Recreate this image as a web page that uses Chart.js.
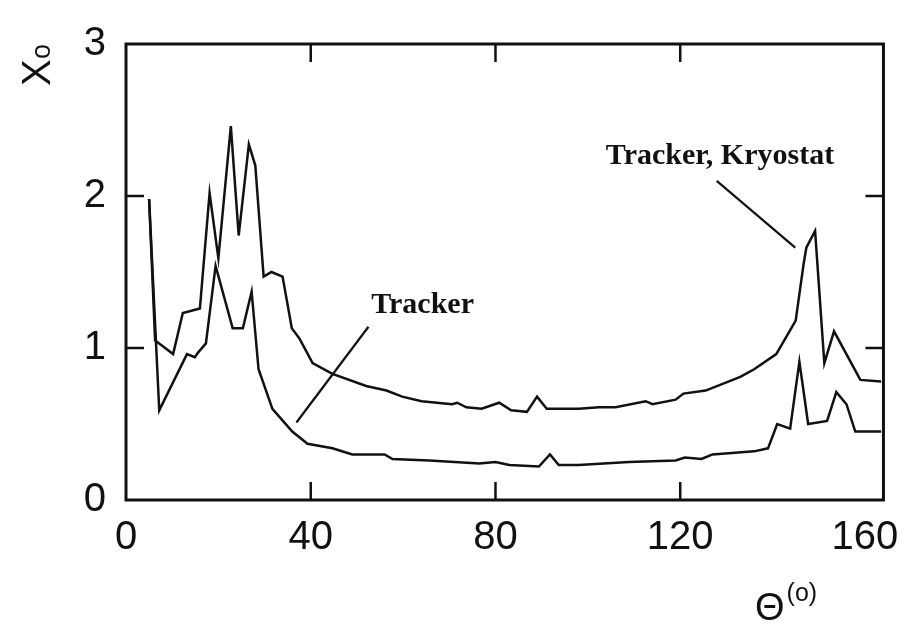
<!DOCTYPE html>
<html>
<head>
<meta charset="utf-8">
<script src="https://cdn.jsdelivr.net/npm/chart.js@4.4.0/dist/chart.umd.min.js"></script>
<style>
  html, body { margin: 0; padding: 0; background: #fff; }
</style>
</head>
<body>
<canvas id="chart" width="913" height="624"></canvas>
<script>
// angle in degrees, radiation length X0
const upperTheta = [5, 6.3, 10.2, 12.3, 16, 18.1, 20, 22.7, 24.4, 26.6, 28, 29.8, 31.5, 33.9, 35.9, 37.6, 40.4, 44.7, 52, 56.4, 59.8, 64, 70.6, 71.7, 73.7, 77, 80.8, 83.4, 86.8, 89, 91.1, 98, 102.4, 106, 112.5, 114, 119, 120.7, 125.5, 133, 136, 140.8, 145, 146.7, 147.3, 149.2, 151.2, 153.3, 159, 163.5];
const upperX0 = [1.98, 1.05, 0.96, 1.23, 1.26, 2.02, 1.59, 2.46, 1.74, 2.34, 2.2, 1.47, 1.5, 1.47, 1.13, 1.06, 0.9, 0.83, 0.75, 0.72, 0.68, 0.65, 0.63, 0.64, 0.61, 0.6, 0.64, 0.59, 0.58, 0.68, 0.6, 0.6, 0.61, 0.61, 0.65, 0.63, 0.66, 0.7, 0.72, 0.81, 0.86, 0.96, 1.18, 1.55, 1.66, 1.77, 0.9, 1.11, 0.79, 0.78];

const lowerTheta = [5, 7.2, 13.2, 14.9, 15.6, 17.3, 19.4, 23.1, 25.3, 27.2, 28.7, 31.7, 36, 39.3, 44.7, 49, 56, 57.7, 65.7, 76.5, 80, 83, 89.4, 91.8, 93.7, 98, 108.9, 119, 121, 124.6, 127, 136, 139, 141, 143.8, 145.8, 147.7, 151.8, 153.8, 156, 157.9, 163.5];
const lowerX0 = [1.98, 0.59, 0.96, 0.94, 0.97, 1.03, 1.54, 1.13, 1.13, 1.37, 0.86, 0.6, 0.45, 0.37, 0.34, 0.3, 0.3, 0.27, 0.26, 0.24, 0.25, 0.23, 0.22, 0.3, 0.23, 0.23, 0.25, 0.26, 0.28, 0.27, 0.3, 0.32, 0.34, 0.5, 0.47, 0.91, 0.5, 0.52, 0.71, 0.63, 0.45, 0.45];

const xTicks = [0, 40, 80, 120, 160];
const yTicks = [0, 1, 2, 3];

// labels with leader lines, in data units
const notes = [
  { text: 'Tracker', at: [53.1, 1.23], from: [52.5, 1.14], to: [36.9, 0.51] },
  { text: 'Tracker, Kryostat', at: [103.9, 2.21], from: [127.9, 2.1], to: [144.9, 1.66] }
];

const ink = '#111';

function toPoints(xs, ys) {
  return xs.map((v, i) => ({ x: v, y: ys[i] }));
}

const framePlugin = {
  id: 'frame',
  afterDraw(chart) {
    const { ctx, chartArea: a, scales: { x, y } } = chart;
    ctx.save();
    ctx.strokeStyle = ink;
    ctx.lineWidth = 3;
    ctx.strokeRect(a.left, a.top, a.right - a.left, a.bottom - a.top);

    // inward ticks on all four sides
    ctx.lineWidth = 2.5;
    ctx.beginPath();
    xTicks.slice(1, -1).forEach(v => {
      const px = x.getPixelForValue(v);
      ctx.moveTo(px, a.bottom); ctx.lineTo(px, a.bottom - 18);
      ctx.moveTo(px, a.top); ctx.lineTo(px, a.top + 18);
    });
    yTicks.slice(1, -1).forEach(v => {
      const py = y.getPixelForValue(v);
      ctx.moveTo(a.left, py); ctx.lineTo(a.left + 18, py);
      ctx.moveTo(a.right, py); ctx.lineTo(a.right - 18, py);
    });
    ctx.stroke();

    // annotations
    ctx.font = 'bold 30px "Liberation Serif", "Times New Roman", serif';
    ctx.fillStyle = ink;
    ctx.textBaseline = 'alphabetic';
    ctx.lineWidth = 2.2;
    notes.forEach(n => {
      ctx.fillText(n.text, x.getPixelForValue(n.at[0]), y.getPixelForValue(n.at[1]));
      ctx.beginPath();
      ctx.moveTo(x.getPixelForValue(n.from[0]), y.getPixelForValue(n.from[1]));
      ctx.lineTo(x.getPixelForValue(n.to[0]), y.getPixelForValue(n.to[1]));
      ctx.stroke();
    });

    // y title, rotated: X with small o
    ctx.save();
    ctx.translate(50, 86);
    ctx.rotate(-Math.PI / 2);
    ctx.font = '40px "Liberation Sans", Arial, sans-serif';
    ctx.fillText('X', 0, 0);
    ctx.font = '27px "Liberation Sans", Arial, sans-serif';
    ctx.fillText('o', 27, 0);
    ctx.restore();

    // x title: theta with (o) superscript
    ctx.font = '38px "Liberation Sans Narrow", "Liberation Sans", Arial, sans-serif';
    ctx.fillText('Θ', 755, 620);
    const w = ctx.measureText('Θ').width;
    ctx.font = '25px "Liberation Sans", Arial, sans-serif';
    ctx.fillText('(o)', 755 + w + 2, 601);
    ctx.restore();
  }
};

const lineStyle = {
  borderColor: ink,
  borderWidth: 2.5,
  pointRadius: 0,
  fill: false,
  tension: 0
};

new Chart(document.getElementById('chart').getContext('2d'), {
  type: 'line',
  data: {
    datasets: [
      Object.assign({ label: 'Tracker, Kryostat', data: toPoints(upperTheta, upperX0) }, lineStyle),
      Object.assign({ label: 'Tracker', data: toPoints(lowerTheta, lowerX0) }, lineStyle)
    ]
  },
  options: {
    responsive: false,
    animation: false,
    layout: { padding: { top: 34, right: 27, left: 0, bottom: 0 } },
    plugins: {
      legend: { display: false },
      tooltip: { enabled: false }
    },
    scales: {
      x: {
        type: 'linear',
        min: 0,
        max: 164,
        afterBuildTicks: s => { s.ticks = xTicks.map(v => ({ value: v })); },
        afterFit: s => { s.height = 124; },
        grid: { display: false, drawTicks: false },
        border: { display: false },
        ticks: {
          color: ink,
          padding: 14,
          maxRotation: 0,
          autoSkip: false,
          font: { family: '"Liberation Sans", Arial, sans-serif', size: 40 }
        }
      },
      y: {
        type: 'linear',
        min: 0,
        max: 3,
        afterBuildTicks: s => { s.ticks = yTicks.map(v => ({ value: v })); },
        afterFit: s => { s.width = 126; },
        grid: { display: false, drawTicks: false },
        border: { display: false },
        ticks: {
          color: ink,
          padding: 20,
          font: { family: '"Liberation Sans", Arial, sans-serif', size: 40 }
        }
      }
    }
  },
  plugins: [framePlugin]
});
</script>
</body>
</html>
